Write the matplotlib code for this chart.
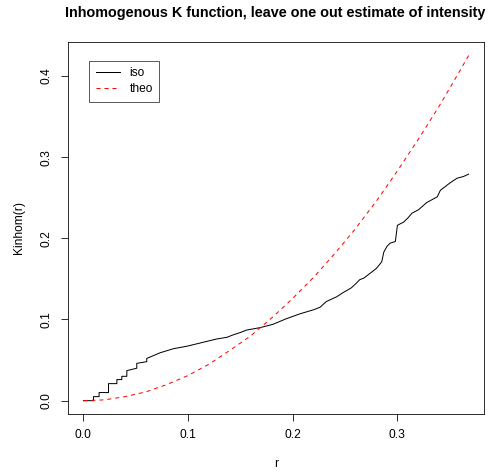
import numpy as np
import matplotlib
matplotlib.use("Agg")
import matplotlib.pyplot as plt

plt.rcParams['font.family'] = ['Liberation Sans', 'DejaVu Sans']

# iso estimate (early part has visible steps)
r_iso = [0.0, 0.0096, 0.0096, 0.015, 0.015, 0.024, 0.024, 0.032, 0.032, 0.0367,
         0.0367, 0.0415, 0.0415, 0.051, 0.051, 0.0605, 0.0605, 0.0733, 0.086, 0.0987,
         0.1115, 0.1274, 0.137, 0.143, 0.150, 0.156, 0.169, 0.181,
         0.194, 0.207, 0.220, 0.226, 0.232, 0.242, 0.248, 0.256, 0.261, 0.264,
         0.268, 0.272, 0.280, 0.285, 0.287, 0.290, 0.293, 0.298, 0.300, 0.306,
         0.310, 0.314, 0.320, 0.328, 0.338, 0.341, 0.350, 0.357, 0.363, 0.368]
k_iso = [0.0, 0.0, 0.005, 0.005, 0.010, 0.010, 0.021, 0.021, 0.026, 0.026,
         0.030, 0.030, 0.037, 0.040, 0.046, 0.048, 0.052, 0.059, 0.064, 0.067,
         0.071, 0.076, 0.078, 0.081, 0.084, 0.087, 0.090, 0.094,
         0.101, 0.107, 0.112, 0.115, 0.122, 0.128, 0.133, 0.139, 0.145, 0.149,
         0.151, 0.155, 0.163, 0.171, 0.183, 0.190, 0.194, 0.196, 0.216, 0.220,
         0.225, 0.231, 0.235, 0.244, 0.251, 0.259, 0.268, 0.274, 0.276, 0.279]

# theoretical curve
r_theo = [0.0, 0.02, 0.04, 0.06, 0.08, 0.10, 0.12, 0.14, 0.16, 0.18,
          0.20, 0.22, 0.24, 0.26, 0.28, 0.30, 0.32, 0.34, 0.36, 0.368]
k_theo = [0.0, 0.001, 0.005, 0.011, 0.020, 0.031, 0.045, 0.062, 0.080, 0.102,
          0.126, 0.152, 0.181, 0.212, 0.246, 0.283, 0.322, 0.363, 0.407, 0.425]

xticks = [0.0, 0.1, 0.2, 0.3]
yticks = [0.0, 0.1, 0.2, 0.3, 0.4]

W, H = 490, 471
fig = plt.figure(figsize=(W/72, H/72), dpi=72)
ax = fig.add_axes([68/W, 1-414/H, (484-68)/W, (414-42)/H])

ax.plot(r_iso, k_iso, color='black', lw=1.0, label='iso')
ax.plot(r_theo, k_theo, color='red', lw=1.0, dashes=(4, 4), label='theo')

ax.set_xlim(-0.0147, 0.3827)
ax.set_ylim(-0.0164, 0.4417)
ax.set_xticks(xticks)
ax.set_xticklabels([f"{t:.1f}" for t in xticks])
ax.set_yticks(yticks)
ax.set_yticklabels([f"{t:.1f}" for t in yticks], rotation=90, va='center')
ax.tick_params(direction='out', length=7, width=0.8, labelsize=12, pad=8)
for s in ax.spines.values():
    s.set_linewidth(0.8)

ax.set_xlabel('r', fontsize=12, labelpad=17)
ax.set_ylabel('Kinhom(r)', fontsize=12, labelpad=16)
fig.suptitle('Inhomogenous K function, leave one out estimate of intensity',
             fontsize=14.4, fontweight='bold', x=275/W, y=1-13/H, va='center')

leg = ax.legend(loc='upper left', bbox_to_anchor=(0.051, 0.950), borderaxespad=0,
                fancybox=False, edgecolor='black', fontsize=12, handlelength=2.0,
                handletextpad=0.8, borderpad=0.55, labelspacing=0.35)
leg.get_frame().set_linewidth(0.8)

fig.savefig('out.png', dpi=72)
